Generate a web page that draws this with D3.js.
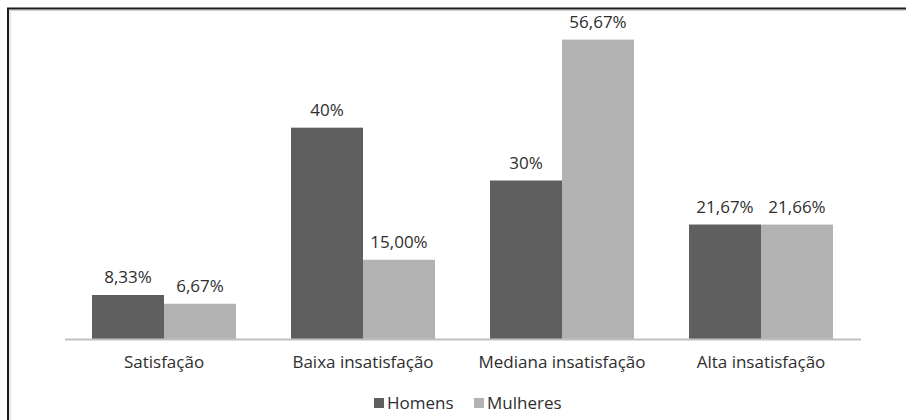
<!DOCTYPE html>
<html><head><meta charset="utf-8">
<script src="https://cdn.jsdelivr.net/npm/d3@7"></script>
<style>body{margin:0;background:#fff}svg{display:block}text{font-family:"Open Sans",sans-serif;fill:#2e2e2e}</style>
</head><body>
<svg id="c" width="906" height="420"></svg>
<script>
const categories = ["Satisfação","Baixa insatisfação","Mediana insatisfação","Alta insatisfação"];
const seriesNames = ["Homens","Mulheres"];
const homens = [8.33,40,30,21.67];
const mulheres = [6.67,15.00,56.67,21.66];
const homensLabels = ["8,33%","40%","30%","21,67%"];
const mulheresLabels = ["6,67%","15,00%","56,67%","21,66%"];
const colors = ["#5f5f5f","#b2b2b2"];

const svg = d3.select("#c");
// frame
svg.append("path").attr("d","M8,420 V8.5 H906").attr("fill","none").attr("stroke","#1a1a1a").attr("stroke-width",2);
svg.append("path").attr("d","M10,420 V10.5 H906").attr("fill","none").attr("stroke","#d0d0d0").attr("stroke-width",1);

const x = d3.scaleBand().domain(categories).range([64.5,860.5]);
const y = d3.scaleLinear().domain([0,60]).range([339,22]);
const barW = 72;
const data = [homens, mulheres];
const labs = [homensLabels, mulheresLabels];

data.forEach((vals,si)=>{
  const g = svg.append("g");
  g.selectAll("rect").data(vals).join("rect")
    .attr("x",(d,i)=>x(categories[i])+x.bandwidth()/2 - barW + si*barW)
    .attr("y",d=>y(d)).attr("width",barW).attr("height",d=>y(0)-y(d))
    .attr("fill",colors[si]);
  g.selectAll("text").data(vals).join("text")
    .attr("x",(d,i)=>x(categories[i])+x.bandwidth()/2 - barW/2 + si*barW)
    .attr("y",d=>y(d)-12).attr("text-anchor","middle").attr("font-size",17)
    .text((d,i)=>labs[si][i]);
});

const ax = svg.append("g").attr("transform","translate(0,339)")
  .call(d3.axisBottom(x).tickSize(0));
ax.select(".domain").attr("stroke","#bfbfbf").attr("stroke-width",2);
ax.selectAll(".tick text").attr("y",29).attr("dy",null).attr("font-size",17)
  .attr("font-family","Open Sans, sans-serif").attr("fill","#2e2e2e");

const lg = svg.append("g");
const lx = [374,474];
seriesNames.forEach((n,i)=>{
  lg.append("rect").attr("x",lx[i]).attr("y",398).attr("width",10).attr("height",10).attr("fill",colors[i]);
  lg.append("text").attr("x",lx[i]+13).attr("y",409).attr("font-size",17).text(n);
});
</script>
</body></html>
